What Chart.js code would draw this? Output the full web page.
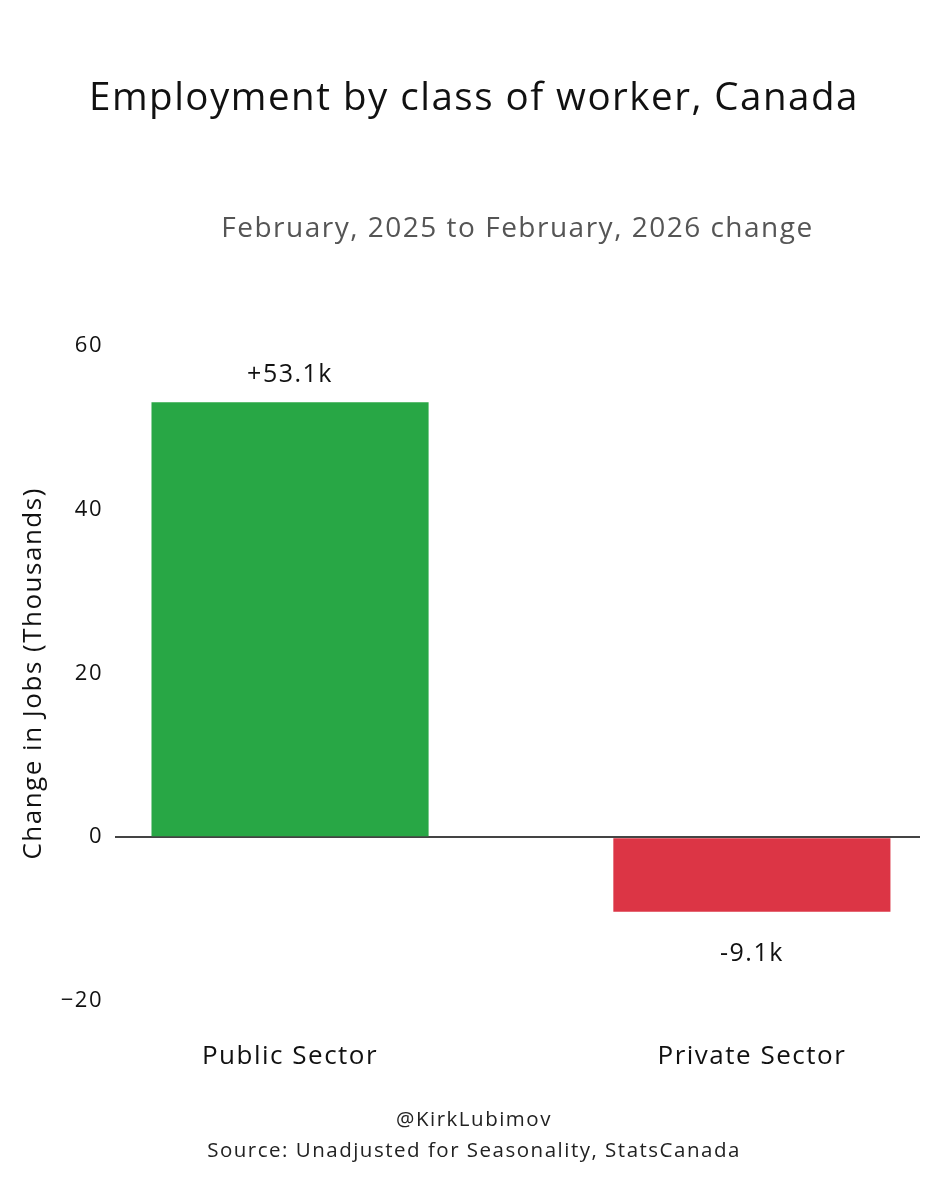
<!DOCTYPE html>
<html>
<head>
<meta charset="utf-8">
<script src="https://cdn.jsdelivr.net/npm/chart.js@4.4.1/dist/chart.umd.min.js"></script>
<style>
  html, body { margin: 0; padding: 0; background: #fff; }
  #wrap { width: 948px; height: 1200px; }
</style>
</head>
<body>
<div id="wrap"><canvas id="jobsChart"></canvas></div>
<script>
// Data
const categories = ['Public Sector', 'Private Sector'];
const jobChange = [53.1, -9.1];          // thousands
const valueLabels = ['+53.1k', '-9.1k'];
const barColors = ['#28a745', '#dc3545'];
const yTicks = [-20, 0, 20, 40, 60];
const footerLines = ['@KirkLubimov', 'Source: Unadjusted for Seasonality, StatsCanada'];

const FONT = '"Open Sans", Roboto, sans-serif';
const SPACING = '1.5px';   // the original font runs a bit wider

// wider letters everywhere (canvas resets state on resize, so set it each pass)
const spacingPlugin = {
    id: 'spacing',
    beforeLayout(chart) { chart.ctx.letterSpacing = SPACING; },
    beforeDraw(chart) { chart.ctx.letterSpacing = SPACING; }
};

// value labels above / below the bars
const valueLabelPlugin = {
    id: 'valueLabels',
    afterDatasetsDraw(chart) {
        const ctx = chart.ctx;
        const meta = chart.getDatasetMeta(0);
        ctx.save();
        ctx.font = '25px ' + FONT;
        ctx.fillStyle = '#111';
        ctx.textAlign = 'center';
        ctx.textBaseline = 'middle';
        meta.data.forEach((bar, i) => {
            const v = jobChange[i];
            const y = v >= 0 ? bar.y - 27 : bar.y + 42;
            ctx.fillText(valueLabels[i], bar.x, y);
        });
        ctx.restore();
    }
};

// credit + source under the chart
const footerPlugin = {
    id: 'footerText',
    afterDraw(chart) {
        const ctx = chart.ctx;
        ctx.save();
        ctx.font = '20.5px ' + FONT;
        ctx.fillStyle = '#222';
        ctx.textAlign = 'center';
        ctx.textBaseline = 'middle';
        ctx.fillText(footerLines[0], chart.width / 2, 1120);
        ctx.fillText(footerLines[1], chart.width / 2, 1151);
        ctx.restore();
    }
};

new Chart(document.getElementById('jobsChart'), {
    type: 'bar',
    data: {
        datasets: [{
            data: jobChange.map((v, i) => ({ x: i, y: v })),
            backgroundColor: barColors,
            borderWidth: 0,
            barPercentage: 0.6,
            categoryPercentage: 1
        }]
    },
    options: {
        responsive: true,
        maintainAspectRatio: false,
        animation: false,
        devicePixelRatio: 1,
        layout: { padding: { left: 28, right: 28, top: 0, bottom: 0 } },
        plugins: {
            legend: { display: false },
            tooltip: { enabled: false },
            title: {
                display: true,
                text: 'Employment by class of worker, Canada',
                color: '#111',
                font: { family: FONT, size: 38.5, weight: 'normal' },
                padding: { top: 76, bottom: 0 }
            },
            subtitle: {
                display: true,
                fullSize: false,
                text: 'February, 2025 to February, 2026 change',
                color: '#555',
                font: { family: FONT, size: 28, weight: 'normal' },
                padding: { top: 90, bottom: 100 }
            }
        },
        scales: {
            x: {
                type: 'linear',
                min: -0.379,
                max: 1.364,
                offset: false,
                border: { display: false },
                grid: { display: false, drawTicks: false },
                afterBuildTicks(scale) {
                    scale.ticks = categories.map((c, i) => ({ value: i }));
                },
                afterFit(scale) { scale.height = 199; },
                ticks: {
                    padding: 40,
                    maxRotation: 0,
                    autoSkip: false,
                    color: '#111',
                    font: { family: FONT, size: 26 },
                    callback: (v) => categories[v]
                }
            },
            y: {
                min: yTicks[0],
                max: yTicks[yTicks.length - 1],
                border: { display: false },
                afterBuildTicks(scale) {
                    scale.ticks = yTicks.map(v => ({ value: v }));
                },
                afterFit(scale) { scale.width = 87; },
                grid: {
                    drawTicks: false,
                    lineWidth: 2,
                    color: (c) => c.tick && c.tick.value === 0 ? '#444' : 'rgba(0,0,0,0)'
                },
                ticks: {
                    padding: 12,
                    color: '#111',
                    font: { family: FONT, size: 22 },
                    callback: (v) => v < 0 ? '\u2212' + Math.abs(v) : String(v)
                },
                title: {
                    display: true,
                    text: 'Change in Jobs (Thousands)',
                    color: '#111',
                    font: { family: FONT, size: 26 },
                    padding: { top: -10, bottom: 0 }
                }
            }
        }
    },
    plugins: [spacingPlugin, valueLabelPlugin, footerPlugin]
});
</script>
</body>
</html>
